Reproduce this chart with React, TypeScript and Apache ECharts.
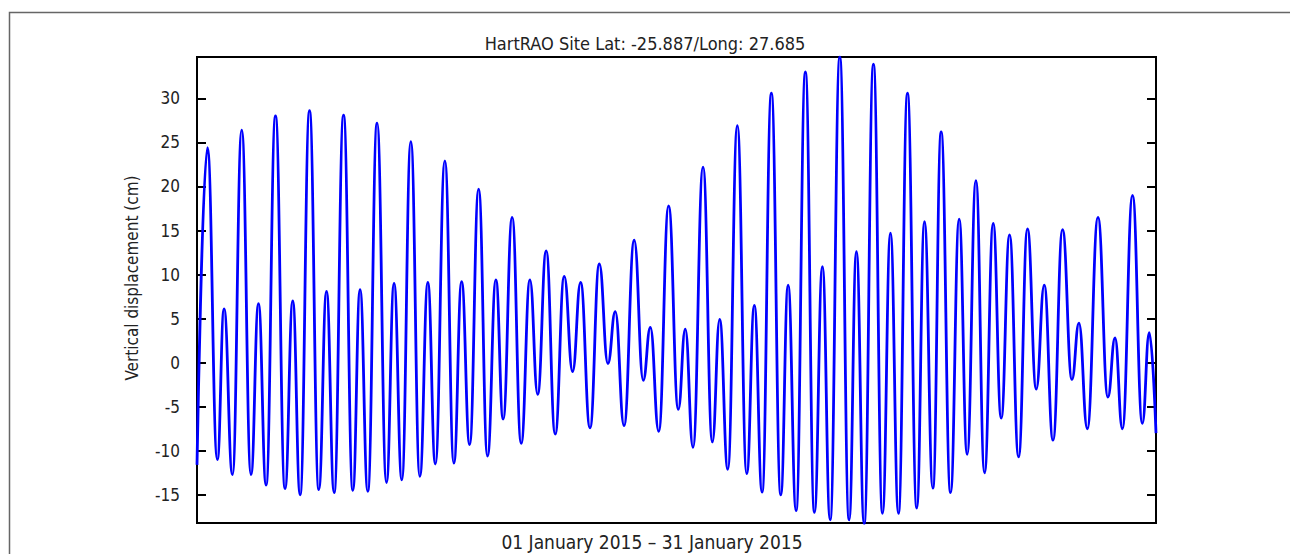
import React, { useEffect, useRef } from "react";
import * as echarts from "echarts";

// Time of each turning point of the curve, hours from 01 Jan 2015 00:00
const hours: number[] = [
  0, 8.1, 15.8, 21.0, 27.5, 34.7, 41.9, 47.7, 53.6, 60.9, 68.3, 74.3, 80.0, 87.3, 94.5,
  100.5, 106.4, 113.7, 120.9, 126.5, 132.5, 139.7, 147.0, 152.9, 158.9, 165.9, 172.9,
  179.1, 184.9, 192.3, 199.3, 205.3, 211.5, 218.5, 225.4, 231.9, 237.5, 244.5, 251.5,
  258.3, 264.3, 270.9, 277.9, 284.9, 291.4, 297.6, 304.9, 312.1, 318.8, 324.5, 331.3,
  339.2, 346.2, 351.7, 358.2, 365.9, 373.4, 378.8, 384.8, 392.6, 399.8, 405.5, 411.8,
  419.2, 426.5, 432.4, 438.4, 445.6, 452.9, 458.6, 464.8, 472.0, 479.0, 485.2, 491.2,
  498.7, 505.9, 511.6, 517.6, 524.8, 531.8, 538.0, 544.2, 551.2, 558.4, 564.4, 570.9,
  577.3, 584.6, 591.3, 597.5, 604.3, 611.0, 617.7, 623.9, 630.4, 637.4, 644.3, 651.1,
  657.3, 664.1, 671.5, 678.8, 684.2, 690.7, 699.0, 706.7, 712.2, 717.9, 725.8, 733.4,
  738.8, 744,
];

// Vertical displacement (cm) at each turning point
const displacement: number[] = [
  -11.6, 24.4, -11.0, 6.1, -12.7, 26.4, -12.7, 6.7, -13.9, 28.0, -14.3, 7.0, -15.0, 28.6, -14.4,
  8.1, -14.75, 28.1, -14.5, 8.3, -14.6, 27.2, -13.6, 9.0, -13.3, 25.1, -12.9,
  9.1, -11.5, 22.9, -11.4, 9.2, -9.3, 19.7, -10.6, 9.4, -6.4, 16.5, -9.15,
  9.4, -3.6, 12.7, -8.1, 9.8, -1.0, 9.1, -7.4, 11.2, -0.1, 5.8, -7.15,
  13.9, -2.0, 4.0, -7.8, 17.8, -5.3, 3.8, -9.6, 22.2, -9.0, 4.9, -12.1,
  26.9, -12.6, 6.5, -14.7, 30.6, -15.0, 8.8, -16.8, 33.0, -17.0, 10.9, -17.85,
  34.7, -17.85, 12.6, -18.3, 33.9, -17.1, 14.7, -17.1, 30.6, -16.5, 16.0, -14.25,
  26.2, -14.75, 16.3, -10.4, 20.65, -12.5, 15.8, -6.3, 14.5, -10.7, 15.2, -3.0,
  8.8, -8.8, 15.1, -1.9, 4.5, -7.5, 16.5, -3.9, 2.8, -7.5, 19.0, -6.9,
  3.4, -8.0,
];

const titleText = "HartRAO Site Lat: -25.887/Long: 27.685";
const yAxisName = "Vertical displacement (cm)";
const xAxisName = "01 January 2015 \u2013 31 January 2015";

const Y_MIN = -18.2;
const Y_MAX = 34.7;
const X_MIN = 0;
const X_MAX = 744;

const FONT = "'Liberation Sans Narrow', 'DejaVu Sans Condensed', 'Arial Narrow', 'Liberation Sans', sans-serif";

export default function App() {
  const ref = useRef<HTMLDivElement>(null);

  useEffect(() => {
    document.body.style.margin = "0";
    if (!ref.current) return;
    const chart = echarts.init(ref.current, undefined, { renderer: "svg" });
    const data = hours.map((h, i) => [h, displacement[i]]);

    const yCommon = {
      type: "value" as const,
      min: Y_MIN,
      max: Y_MAX,
      splitNumber: 10,
      minInterval: 5,
      maxInterval: 5,
      splitLine: { show: false },
      axisLine: { show: false },
      axisTick: {
        show: true,
        inside: true,
        length: 9,
        lineStyle: { color: "#000", width: 2 },
      },
    };

    chart.setOption({
      animation: false,
      backgroundColor: "#fff",
      title: {
        text: titleText,
        left: "center",
        top: 29,
        textStyle: {
          fontFamily: FONT,
          fontSize: 18,
          fontWeight: "normal",
          color: "#222",
        },
      },
      grid: {
        left: 197,
        top: 57,
        width: 959,
        height: 466,
        show: true,
        borderColor: "#000",
        borderWidth: 2,
        backgroundColor: "transparent",
      },
      xAxis: {
        type: "value",
        min: X_MIN,
        max: X_MAX,
        axisLine: { show: false },
        axisTick: { show: false },
        axisLabel: { show: false },
        splitLine: { show: false },
      },
      yAxis: [
        {
          ...yCommon,
          position: "left",
          axisLabel: {
            show: true,
            margin: 17,
            showMinLabel: false,
            showMaxLabel: false,
            fontFamily: FONT,
            fontSize: 17,
            color: "#222",
          },
        },
        {
          ...yCommon,
          position: "right",
          axisLabel: { show: false },
        },
      ],
      graphic: [
        {
          type: "rect",
          silent: true,
          shape: { x: 9.5, y: 12.5, width: 1400, height: 700 },
          style: { fill: "none", stroke: "#666", lineWidth: 1.5 },
          z: -1,
        },
        {
          type: "text",
          x: 132,
          y: 278,
          rotation: Math.PI / 2,
          style: {
            text: yAxisName,
            fontFamily: FONT,
            fontSize: 17,
            fill: "#222",
            align: "center",
            verticalAlign: "middle",
          },
        },
        {
          type: "text",
          x: 652,
          y: 542,
          style: {
            text: xAxisName,
            fontFamily: FONT,
            fontSize: 19,
            fill: "#222",
            align: "center",
            verticalAlign: "middle",
          },
        },
      ],
      series: [
        {
          type: "line",
          data,
          xAxisIndex: 0,
          yAxisIndex: 0,
          showSymbol: false,
          symbol: "none",
          smooth: 0.45,
          smoothMonotone: "x",
          clip: true,
          lineStyle: { color: "#0000ff", width: 2.8 },
        },
      ],
    });

    return () => {
      chart.dispose();
    };
  }, []);

  return <div ref={ref} style={{ width: 1290, height: 554 }} />;
}
